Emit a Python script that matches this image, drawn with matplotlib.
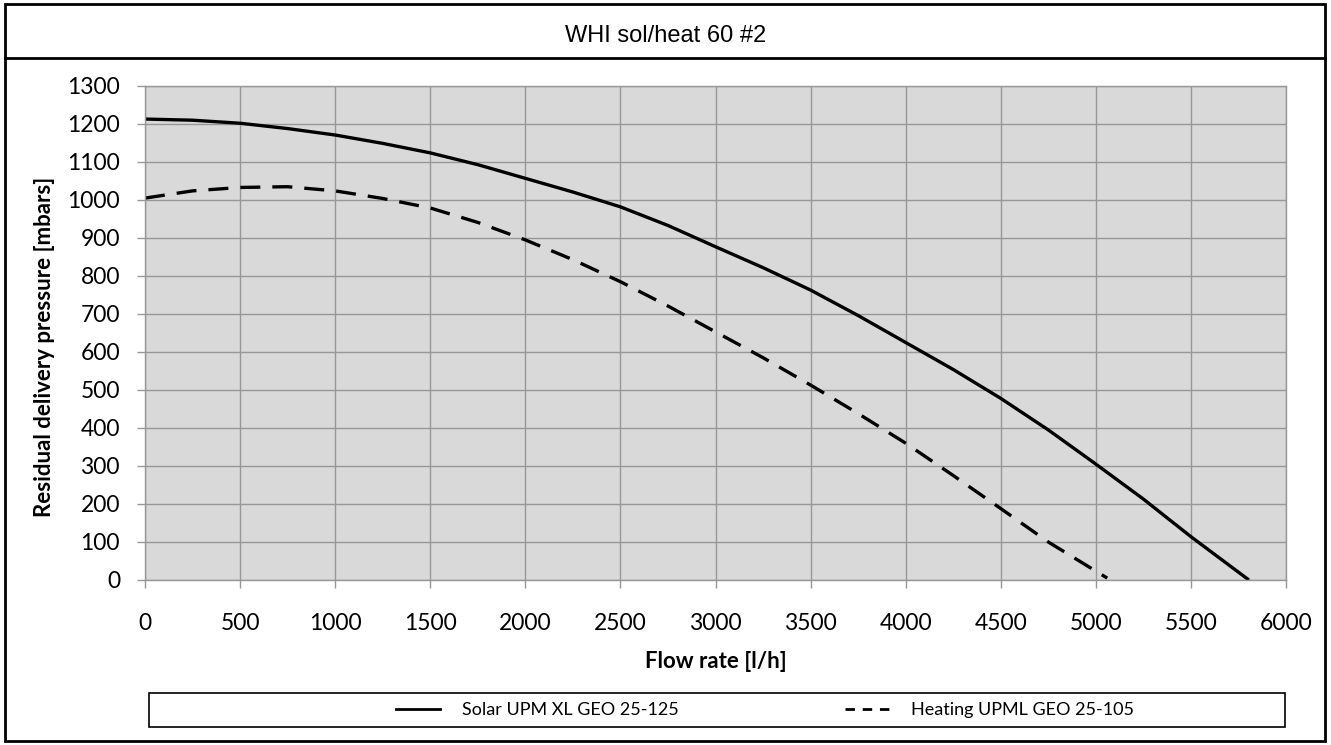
import matplotlib.pyplot as plt
from matplotlib.patches import Rectangle
from matplotlib.lines import Line2D

# values
solar_flow = [0, 250, 500, 750, 1000, 1250, 1500, 1750, 2000, 2250, 2500, 2750,
              3000, 3250, 3500, 3750, 4000, 4250, 4500, 4750, 5000, 5250, 5500, 5805]
solar_pressure = [1213, 1210, 1202, 1188, 1171, 1149, 1124, 1093, 1057, 1021, 982, 933,
                  877, 822, 763, 696, 625, 554, 478, 395, 305, 213, 114, 0]

heating_flow = [0, 250, 500, 750, 1000, 1250, 1500, 1750, 2000, 2250, 2500, 2750,
                3000, 3250, 3500, 3750, 4000, 4250, 4500, 4750, 5060]
heating_pressure = [1005, 1024, 1033, 1035, 1024, 1004, 979, 941, 895, 843, 785, 721,
                    653, 585, 513, 438, 360, 275, 188, 100, 5]

series_labels = ["Solar UPM XL GEO 25-125", "Heating UPML GEO 25-105"]
x_ticks = list(range(0, 6001, 500))
y_ticks = list(range(0, 1301, 100))

W, H = 1331, 745
plt.rcParams["font.family"] = ["Lato", "DejaVu Sans"]

fig = plt.figure(figsize=(W / 100, H / 100), dpi=100)


def fx(px):
    return px / W


def fy(py):
    return 1 - py / H


ax = fig.add_axes([fx(145), fy(580), fx(1286 - 145), (580 - 86) / H])
ax.set_facecolor("#d9d9d9")

grid_color = "#979797"
ax.grid(True, color=grid_color, linewidth=1.0)
ax.set_axisbelow(True)
for side in ax.spines.values():
    side.set_color(grid_color)
    side.set_linewidth(1.0)

ax.plot(solar_flow, solar_pressure, color="black", linewidth=2.4,
        solid_capstyle="butt", solid_joinstyle="round")
ax.plot(heating_flow, heating_pressure, color="black", linewidth=2.4,
        dashes=(6, 3.6), dash_capstyle="butt")

ax.set_xlim(0, 6000)
ax.set_ylim(0, 1300)
ax.set_xticks(x_ticks)
ax.set_yticks(y_ticks)
ax.tick_params(axis="both", color=grid_color, width=1.0, length=6,
               labelsize=16.5, labelcolor="black")
ax.tick_params(axis="x", pad=18)
ax.tick_params(axis="y", pad=12)

fig.text(fx(716), fy(662), "Flow rate [l/h]", ha="center", va="center",
         fontsize=16, fontweight="bold")
fig.text(fx(45), fy(347), "Residual delivery pressure [mbars]", ha="center",
         va="center", rotation=90, fontsize=16, fontweight="bold")

# title box and outer border
fig.text(0.5, fy(42), "WHI sol/heat 60 #2", ha="center", va="baseline",
         fontsize=17, family="Liberation Sans")
fig.patches.append(Rectangle((fx(5), fy(741)), fx(1325 - 5), (741 - 4) / H,
                             transform=fig.transFigure, fill=False,
                             edgecolor="black", linewidth=2.0))
fig.lines.append(Line2D([fx(5), fx(1325)], [fy(58), fy(58)],
                        transform=fig.transFigure, color="black", linewidth=2.0))

# legend box
fig.patches.append(Rectangle((fx(149), fy(727)), fx(1285 - 149), (727 - 693) / H,
                             transform=fig.transFigure, fill=False,
                             edgecolor="black", linewidth=1.2))
handles = [
    Line2D([], [], color="black", linewidth=2.0),
    Line2D([], [], color="black", linewidth=2.0, dashes=(3.4, 2.8)),
]
fig.legend(handles, series_labels, loc="center",
           bbox_to_anchor=(fx(765), fy(710)), ncol=2, frameon=False,
           fontsize=13, handlelength=2.45, handletextpad=1.2,
           columnspacing=9.2)

fig.savefig("out.png", dpi=100)
